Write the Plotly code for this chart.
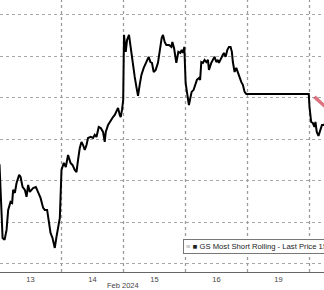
import plotly.graph_objects as go

# Session position (0 = open of Feb 13, 1 = open of Feb 14, ...) and index level
t = [0.000, 0.050, 0.082, 0.114, 0.140, 0.178, 0.204, 0.220, 0.248, 0.275,
     0.317, 0.340, 0.372, 0.409, 0.436, 0.462, 0.489, 0.517, 0.543, 0.586,
     0.623, 0.662, 0.704, 0.731, 0.768, 0.800, 0.823, 0.855, 0.892, 0.919,
     0.945, 0.973, 1.000, 1.037, 1.069, 1.106, 1.145, 1.177, 1.214, 1.242,
     1.267, 1.295, 1.322, 1.348, 1.375, 1.403, 1.428, 1.472, 1.509, 1.536,
     1.564, 1.601, 1.633, 1.670, 1.697, 1.714, 1.751, 1.794, 1.831, 1.859,
     1.886, 1.912, 1.939, 1.955, 1.976, 1.995, 2.008, 2.036, 2.057, 2.089,
     2.111, 2.144, 2.181, 2.208, 2.234, 2.261, 2.289, 2.326, 2.369, 2.406,
     2.434, 2.459, 2.487, 2.519, 2.556, 2.583, 2.616, 2.637, 2.664, 2.691,
     2.733, 2.772, 2.788, 2.815, 2.852, 2.885, 2.917, 2.938, 2.959, 2.981,
     3.002, 3.023, 3.055, 3.078, 3.099, 3.131, 3.152, 3.184, 3.217, 3.236,
     3.255, 3.281, 3.308, 3.336, 3.362, 3.378, 3.416, 3.442, 3.469, 3.497,
     3.523, 3.539, 3.572, 3.593, 3.619, 3.647, 3.674, 3.700, 3.727, 3.748,
     3.764, 3.792, 3.819, 3.845, 3.872, 3.899, 3.925, 3.953, 3.980, 4.988,
     5.000, 5.027, 5.053, 5.080, 5.096, 5.117, 5.145, 5.172, 5.201, 5.225,
     5.258]
level = [154.80, 151.25, 151.16, 151.64, 152.60, 152.99, 152.94, 153.57, 153.42, 153.90,
         154.29, 154.19, 153.71, 153.57, 153.23, 153.81, 153.47, 153.57, 153.66, 153.71,
         153.42, 153.18, 152.70, 152.60, 152.60, 151.98, 151.49, 151.25, 150.77, 151.30,
         151.78, 152.22, 154.53, 154.87, 154.67, 155.25, 154.87, 154.77, 154.53, 154.43,
         155.01, 155.59, 155.88, 155.73, 155.49, 155.73, 156.07, 156.12, 156.07, 156.22,
         156.12, 156.60, 156.55, 156.36, 155.88, 156.36, 156.70, 156.94, 157.08, 157.18,
         157.32, 157.52, 157.18, 157.08, 157.42, 157.90, 161.04, 160.22, 160.79, 161.04,
         160.55, 159.69, 159.01, 158.53, 158.10, 158.63, 159.11, 159.45, 159.73, 159.98,
         159.73, 159.69, 159.25, 159.35, 159.69, 160.31, 160.89, 161.04, 160.70, 160.55,
         160.55, 160.46, 160.70, 160.41, 159.69, 160.22, 160.17, 160.31, 160.17, 160.46,
         158.72, 158.29, 157.66, 158.00, 158.29, 158.39, 158.63, 158.87, 158.96, 158.87,
         159.73, 159.69, 159.83, 159.73, 159.83, 159.35, 159.69, 159.83, 159.98, 159.73,
         159.83, 159.69, 159.93, 160.02, 160.17, 159.98, 160.31, 160.46, 160.46, 160.22,
         159.73, 159.25, 159.45, 159.20, 158.96, 158.77, 158.63, 158.29, 158.19, 158.19,
         157.57, 156.84, 156.79, 156.60, 156.84, 156.36, 156.17, 156.46, 156.70, 156.70,
         156.75]

day_labels = ["13", "14", "15", "16", "19"]
day_centers = [0.5, 1.5, 2.5, 3.5, 4.5]
day_bounds = [1, 2, 3, 4, 5]
month_label = "Feb 2024"
series_name = "GS Most Short Rolling - Last Price"
last_price = "156.70"
y_grid = [150, 152, 154, 156, 158, 160, 162]
# red pointer annotation (data units)
pointer_x = [5.080, 5.258]
pointer_y = [158.05, 157.57]

FONT = "Liberation Sans, Arial, sans-serif"
GRID = "#a8a8a8"

fig = go.Figure()

# vertical day-separator grid lines, as a dotted line trace under the price line
vx, vy = [], []
for b in day_bounds:
    vx += [b, b, None]
    vy += [149.61, 162.72, None]
fig.add_trace(go.Scatter(
    x=vx, y=vy, mode="lines", line=dict(color="#9c9c9c", width=1.3, dash="dot"),
    showlegend=False, hoverinfo="skip", connectgaps=False))

fig.add_trace(go.Scatter(
    x=t, y=level, mode="lines",
    line=dict(color="black", width=2),
    name=series_name, showlegend=False, hoverinfo="skip"))

fig.add_shape(type="line", xref="x", yref="y",
              x0=pointer_x[0], y0=pointer_y[0], x1=pointer_x[1], y1=pointer_y[1],
              line=dict(color="rgba(200,40,60,0.65)", width=3.5))

fig.add_annotation(
    x=0.564, y=0.121, xref="paper", yref="paper", xanchor="left", yanchor="top",
    text=('<span style="color:#aaaaaa">≡</span> ■ ' + series_name + " " + last_price),
    showarrow=False, align="left",
    font=dict(family=FONT, size=7.7, color="#222222"),
    bgcolor="white", bordercolor="#777777", borderwidth=1, borderpad=2)

fig.add_annotation(
    x=1.99, y=-0.048, xref="x", yref="paper", xanchor="center", yanchor="middle",
    text=month_label, showarrow=False,
    font=dict(family=FONT, size=7.5, color="#444444"))

fig.update_layout(
    width=324, height=290,
    margin=dict(l=0, r=0, t=0, b=18),
    paper_bgcolor="white", plot_bgcolor="white",
    showlegend=False,
    xaxis=dict(
        range=[0.00806, 5.23387],
        tickmode="array", tickvals=day_centers, ticktext=day_labels,
        ticks="", showgrid=False, zeroline=False,
        showline=True, linecolor="#666666", linewidth=1,
        tickfont=dict(family=FONT, size=7.5, color="#444444"),
    ),
    yaxis=dict(
        range=[149.61, 162.72],
        tickmode="array", tickvals=y_grid,
        showticklabels=False, ticks="",
        showgrid=True, griddash="dot", gridcolor=GRID, gridwidth=1,
        zeroline=False, showline=False,
    ),
)

fig.write_html("out.html")
